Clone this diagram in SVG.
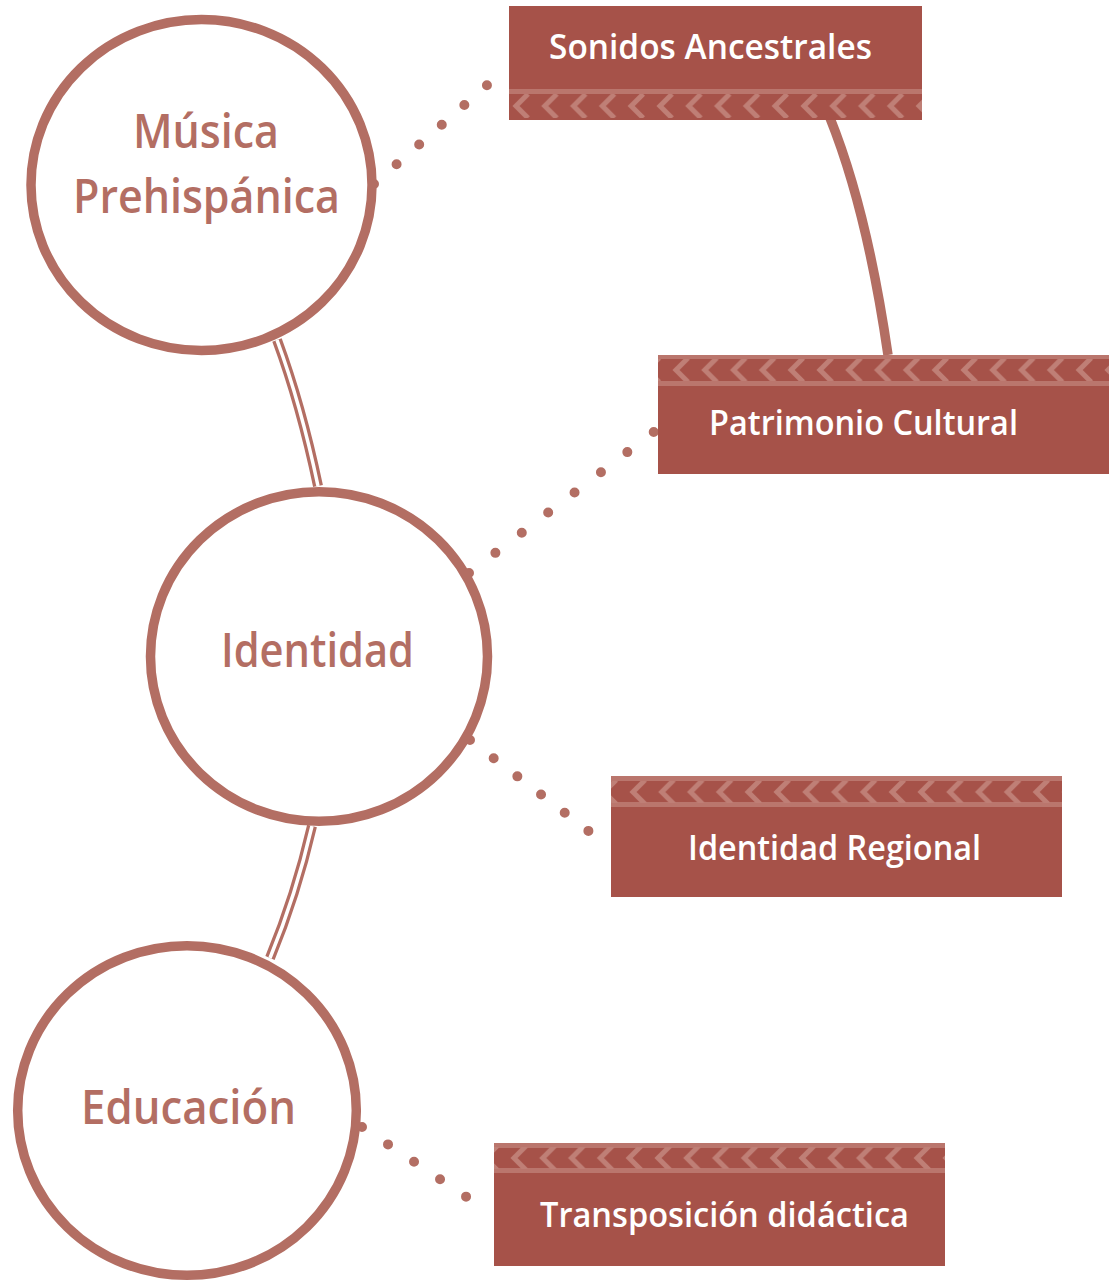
<svg xmlns="http://www.w3.org/2000/svg" width="1109" height="1282" viewBox="0 0 1109 1282">
<defs>
<style>
.ring{fill:#ffffff;stroke:#b36e63;stroke-width:9.5}
.box{fill:#a65249}
.bar{fill:#ba766d}
.ctext{font-family:"Open Sans","Noto Sans",sans-serif;font-weight:600;font-size:47px;fill:#b36e63}
.btext{font-family:"Open Sans","Noto Sans",sans-serif;font-weight:600;font-size:35px;fill:#ffffff}
.dots{fill:none;stroke:#b36e63;stroke-width:10;stroke-linecap:round}
.solid{fill:none;stroke:#b36e63;stroke-width:9.5}
.dbl-out{fill:none;stroke:#b36e63;stroke-width:10}
.dbl-in{fill:none;stroke:#ffffff;stroke-width:3.5}
</style>
<pattern id="chev" patternUnits="userSpaceOnUse" x="0" y="0" width="28.8" height="24">
<polyline points="23,0 11,12 23,24" fill="none" stroke="#bf7f76" stroke-width="5"/>
</pattern>
</defs>

<g id="connectors">
<path class="dbl-out" d="M277 340 Q301 405 318 486"/>
<path class="dbl-in" d="M277 340 Q301 405 318 486"/>
<path class="dbl-out" d="M312 826 Q296 895 270 958"/>
<path class="dbl-in" d="M312 826 Q296 895 270 958"/>
<path class="solid" d="M830 118 Q867 210 888 355"/>
<path class="dots" d="M374 184 L509 66" stroke-dasharray="0 30"/>
<path class="dots" d="M469 573 L655 431" stroke-dasharray="0 33.2"/>
<path class="dots" d="M470 740 L612 849" stroke-dasharray="0 29.85"/>
<path class="dots" d="M362 1127 L492 1214" stroke-dasharray="0 31.3"/>
</g>

<g id="node-musica">
<ellipse class="ring" cx="201.5" cy="185" rx="170.5" ry="165.5"/>
<text class="ctext" x="133" y="148" textLength="146" lengthAdjust="spacingAndGlyphs">Música</text>
<text class="ctext" x="73" y="213" textLength="267" lengthAdjust="spacingAndGlyphs">Prehispánica</text>
</g>

<g id="node-identidad">
<ellipse class="ring" cx="319" cy="656.5" rx="168.5" ry="164.8"/>
<text class="ctext" x="221" y="667" textLength="193" lengthAdjust="spacingAndGlyphs">Identidad</text>
</g>

<g id="node-educacion">
<ellipse class="ring" cx="187" cy="1110.5" rx="169.3" ry="164.8"/>
<text class="ctext" x="81" y="1124" textLength="215" lengthAdjust="spacingAndGlyphs">Educación</text>
</g>

<g id="node-sonidos">
<rect class="box" x="509" y="6" width="413" height="114"/>
<rect class="bar" x="509" y="89" width="413" height="5"/>
<g transform="translate(505,94)"><rect x="4" y="0" width="413" height="24" fill="url(#chev)"/></g>
<text class="btext" x="549" y="59" textLength="323" lengthAdjust="spacingAndGlyphs">Sonidos Ancestrales</text>
</g>

<g id="node-patrimonio">
<rect class="box" x="658" y="355" width="451" height="119"/>
<rect class="bar" x="658" y="355" width="451" height="4"/>
<rect class="bar" x="658" y="381" width="451" height="5"/>
<g transform="translate(665,358)"><rect x="-7" y="1" width="451" height="22" fill="url(#chev)"/></g>
<text class="btext" x="709" y="435" textLength="309" lengthAdjust="spacingAndGlyphs">Patrimonio Cultural</text>
</g>

<g id="node-regional">
<rect class="box" x="611" y="776" width="451" height="121"/>
<rect class="bar" x="611" y="776" width="451" height="5"/>
<rect class="bar" x="611" y="802" width="451" height="5"/>
<g transform="translate(622,780)"><rect x="-11" y="1" width="451" height="22" fill="url(#chev)"/></g>
<text class="btext" x="688" y="860" textLength="293" lengthAdjust="spacingAndGlyphs">Identidad Regional</text>
</g>

<g id="node-transposicion">
<rect class="box" x="494" y="1143" width="451" height="123"/>
<rect class="bar" x="494" y="1143" width="451" height="5"/>
<rect class="bar" x="494" y="1168" width="451" height="5"/>
<g transform="translate(503,1146)"><rect x="-9" y="1" width="451" height="22" fill="url(#chev)"/></g>
<text class="btext" x="540" y="1227" textLength="369" lengthAdjust="spacingAndGlyphs">Transposición didáctica</text>
</g>
</svg>
